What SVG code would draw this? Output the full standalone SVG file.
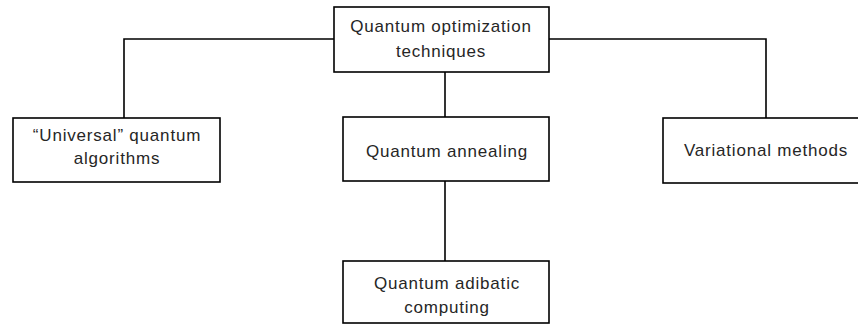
<svg xmlns="http://www.w3.org/2000/svg" width="858" height="326" viewBox="0 0 858 326">
<style>
.box{fill:#fff;stroke:#000;stroke-width:1.6}
.t{font-family:"Liberation Sans",Arial,sans-serif;font-size:17px;letter-spacing:0.8px;fill:#262626;text-anchor:middle}
.c{fill:none;stroke:#000;stroke-width:1.6}
</style>
<rect width="858" height="326" fill="#fff"/>
<g id="connectors">
<polyline class="c" points="124,118 124,39 334,39"/>
<polyline class="c" points="549,39 766,39 766,118"/>
<line class="c" x1="445" y1="72" x2="445" y2="117"/>
<line class="c" x1="445" y1="181" x2="445" y2="261"/>
</g>
<g id="top">
<rect class="box" x="334" y="7" width="215" height="65"/>
<text class="t" x="441" y="32">Quantum optimization</text>
<text class="t" x="441" y="57">techniques</text>
</g>
<g id="universal">
<rect class="box" x="13" y="118" width="207" height="64"/>
<text class="t" x="117" y="141">“Universal” quantum</text>
<text class="t" x="117" y="164">algorithms</text>
</g>
<g id="annealing">
<rect class="box" x="343" y="117" width="206" height="64"/>
<text class="t" x="447" y="157">Quantum annealing</text>
</g>
<g id="variational">
<rect class="box" x="663" y="118" width="200" height="65"/>
<text class="t" x="766" y="156">Variational methods</text>
</g>
<g id="adiabatic">
<rect class="box" x="343" y="261" width="206" height="62"/>
<text class="t" x="447" y="289">Quantum adibatic</text>
<text class="t" x="447" y="313">computing</text>
</g>
</svg>
